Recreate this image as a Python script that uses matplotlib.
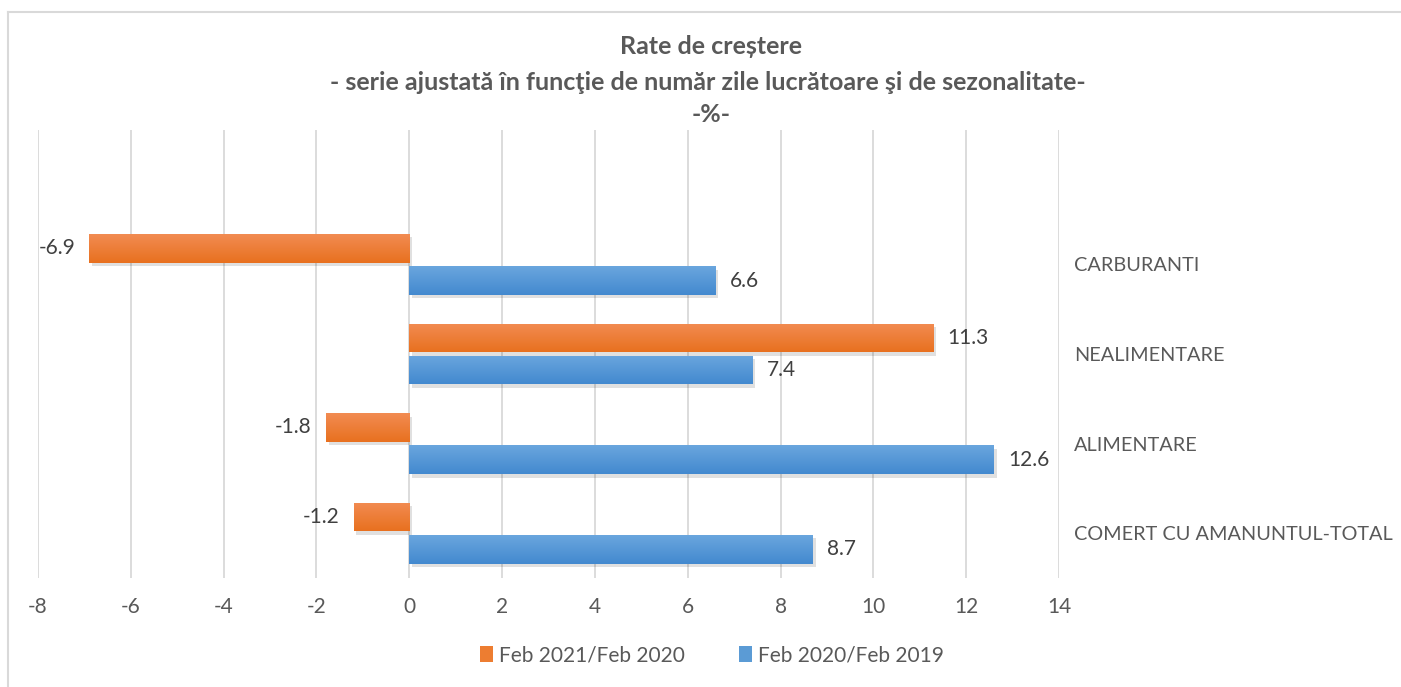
import matplotlib
matplotlib.use("Agg")
import matplotlib.pyplot as plt
import matplotlib.patheffects as pe
from matplotlib.lines import Line2D
from matplotlib.patches import Patch
import numpy as np

categories = ["COMERT CU AMANUNTUL-TOTAL", "ALIMENTARE", "NEALIMENTARE", "CARBURANTI"]
feb21_feb20 = [-1.2, -1.8, 11.3, -6.9]
feb20_feb19 = [8.7, 12.6, 7.4, 6.6]
series_names = ["Feb 2021/Feb 2020", "Feb 2020/Feb 2019"]
xticks = [-8, -6, -4, -2, 0, 2, 4, 6, 8, 10, 12, 14]

plt.rcParams['font.family'] = ['Lato', 'DejaVu Sans']
TXT = '#595959'

fig = plt.figure(figsize=(14.01, 6.87), dpi=100)
ax = fig.add_axes([38/1401, (687-578)/687, (1059-38)/1401, (578-130)/687])

y = np.arange(len(categories))
h = 0.32
off = 0.18

def grad_bars(bars, top_col, bot_col):
    top = np.array(matplotlib.colors.to_rgb(top_col))
    bot = np.array(matplotlib.colors.to_rgb(bot_col))
    t = np.linspace(0, 1, 64)[:, None]
    img = (top * (1 - t) + bot * t)[:, None, :]
    for b in bars:
        b.set_path_effects([pe.SimplePatchShadow(offset=(2, -2.5), shadow_rgbFace='k', alpha=0.12),
                            pe.Normal()])
        x0, y0 = b.get_x(), b.get_y()
        w, hh = b.get_width(), b.get_height()
        im = ax.imshow(img, extent=[x0, x0 + w, y0, y0 + hh], aspect='auto', zorder=3, origin='upper')
        im.set_clip_path(b)

b1 = ax.barh(y + off, feb21_feb20, height=h, color='#ED7D31', zorder=2)
b2 = ax.barh(y - off, feb20_feb19, height=h, color='#5B9BD5', zorder=2)
grad_bars(b1, '#F28C52', '#E8701F')
grad_bars(b2, '#6AA6DE', '#4389CF')

for yy, v in zip(y + off, feb21_feb20):
    ax.text(v + (0.3 if v >= 0 else -0.3), yy, f"{v:.1f}", ha='left' if v >= 0 else 'right',
            va='center', fontsize=15, color='#404040', zorder=5)
for yy, v in zip(y - off, feb20_feb19):
    ax.text(v + (0.3 if v >= 0 else -0.3), yy, f"{v:.1f}", ha='left' if v >= 0 else 'right',
            va='center', fontsize=15, color='#404040', zorder=5)

ax.set_xlim(-8, 14)
ax.set_ylim(-0.5, 4.5)
ax.set_xticks(xticks)
ax.set_xticklabels([str(t) for t in xticks], fontsize=15, color=TXT)
ax.tick_params(axis='x', length=0, pad=14)
ax.grid(axis='x', color='#D9D9D9', linewidth=1.3, zorder=0)
ax.set_axisbelow(True)
for s in ax.spines.values():
    s.set_visible(False)

ax.yaxis.tick_right()
ax.set_yticks(y)
ax.set_yticklabels(categories, fontsize=14.3, color=TXT, ha='left')
ax.tick_params(axis='y', length=0, pad=11)

fig.text(711/1401, 1 - 47/687, "Rate de creștere", ha='center', va='center',
         fontsize=18, fontweight='bold', color=TXT)
fig.text(708/1401, 1 - 82/687, "- serie ajustată în funcţie de număr zile lucrătoare şi de sezonalitate-",
         ha='center', va='center', fontsize=18, fontweight='bold', color=TXT)
fig.text(711/1401, 1 - 115/687, "-%-", ha='center', va='center',
         fontsize=18, fontweight='bold', color=TXT)

handles = [Patch(facecolor='#ED7D31'), Patch(facecolor='#5B9BD5')]
leg = fig.legend(handles=handles, labels=series_names, loc='center',
                 bbox_to_anchor=(712/1401, 1 - 655/687), ncol=2, frameon=False,
                 fontsize=15, handlelength=0.6, handleheight=0.8, handletextpad=0.3,
                 columnspacing=2.6)
for t in leg.get_texts():
    t.set_color(TXT)

fig.add_artist(Line2D([8/1401, 8/1401], [0, 1 - 12/687], color='#D9D9D9', lw=1.5, transform=fig.transFigure))
fig.add_artist(Line2D([8/1401, 1], [1 - 12/687, 1 - 12/687], color='#D9D9D9', lw=1.5, transform=fig.transFigure))

fig.savefig('out.png', dpi=100)
